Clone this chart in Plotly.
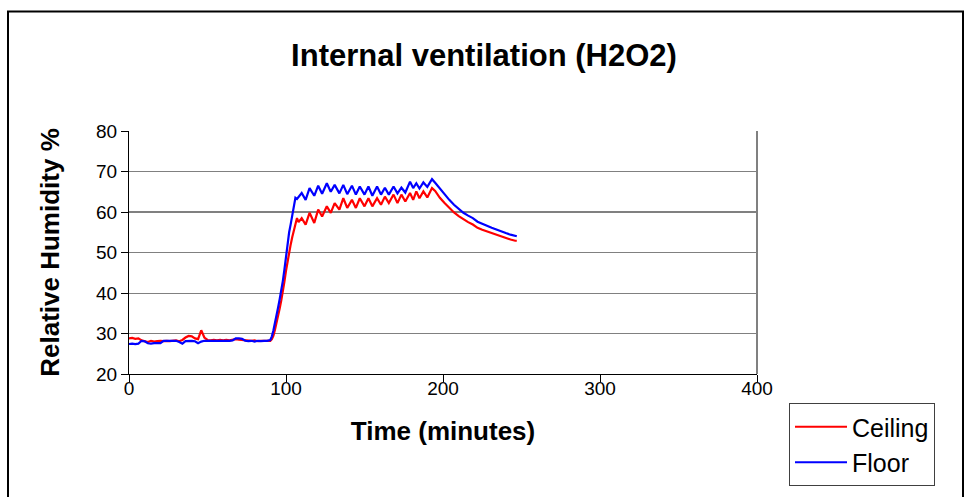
import plotly.graph_objects as go

# ---- data ----
time_min = [
    0, 2, 4, 6, 8, 10, 12, 14, 16, 18, 20, 22, 24, 26, 28, 30, 32, 34, 36, 38, 40, 42, 44, 46, 48,
    50, 52, 54, 56, 58, 60, 62, 64, 66, 68, 70, 72, 74, 76, 78, 80, 82, 84, 86, 88,
    90, 91, 92, 93, 94, 95, 96, 97, 98, 99, 100, 101, 102, 103, 104, 105, 106, 107, 108,
    110, 112.5, 115, 118, 120.5, 123, 126, 128.5, 131, 134, 136.5, 139, 142, 144.5, 147, 150,
    152.5, 155, 158, 160.5, 163, 165.5, 168.5, 171, 173.5, 176, 179, 181, 183, 185, 187.5, 190, 193,
    195, 198, 201, 204, 207, 210, 213, 216, 219, 222, 225, 228, 231, 234, 237, 240, 243, 246, 247,
]

ceiling = [
    28.8, 28.9, 28.7, 28.8, 28.3, 28.0, 27.9, 28.2, 28.0, 28.1, 28.2, 28.1, 28.2, 28.1, 28.2, 28.3, 28.1, 28.4, 29.0, 29.4, 29.3, 28.8, 28.6, 30.8, 29.0,
    28.4, 28.3, 28.4, 28.3, 28.4, 28.3, 28.4, 28.3, 28.4, 28.6, 28.5, 28.4, 28.3, 28.2, 28.2, 28.3, 28.1, 28.2, 28.2, 28.1,
    28.2, 28.6, 29.5, 31.0, 32.6, 34.3, 36.2, 38.2, 40.1, 42.8, 45.5, 48.0, 50.0, 52.0, 53.8, 55.5, 57.5, 58.5, 57.5,
    58.5, 56.9, 59.8, 57.3, 60.6, 58.9, 61.4, 59.8, 62.2, 60.6, 63.4, 61.0, 63.0, 61.0, 63.4, 61.4,
    63.4, 61.4, 63.4, 61.8, 63.8, 62.2, 64.3, 62.2, 64.3, 62.6, 64.7, 63.0, 65.1, 63.4, 65.1, 63.6, 65.9,
    65.2, 63.5, 62.2, 61.0, 59.9, 59.0, 58.2, 57.5, 56.9, 56.1, 55.6, 55.2, 54.8, 54.4, 54.0, 53.5, 53.2, 52.9, 52.9,
]

floor = [
    27.4, 27.5, 27.4, 27.5, 28.2, 28.1, 27.6, 27.5, 27.6, 27.6, 27.6, 28.2, 28.2, 28.1, 28.2, 28.2, 27.9, 27.5, 28.1, 28.2, 28.2, 28.1, 27.6, 28.0, 28.2,
    28.2, 28.2, 28.1, 28.2, 28.2, 28.1, 28.2, 28.2, 28.3, 28.8, 28.8, 28.7, 28.2, 28.1, 28.2, 28.0, 28.2, 28.1, 28.2, 28.2,
    28.4, 29.3, 30.8, 32.5, 34.3, 36.5, 38.5, 40.5, 43.0, 45.8, 49.0, 52.0, 55.0, 57.0, 59.5, 62.0, 63.5, 63.2, 63.8,
    64.7, 63.0, 65.9, 64.0, 66.5, 64.5, 67.1, 65.0, 66.7, 64.6, 66.7, 64.4, 66.5, 64.3, 66.3, 64.3,
    66.3, 64.0, 66.3, 64.3, 66.0, 64.3, 66.3, 64.6, 66.0, 64.8, 67.5, 65.9, 67.1, 65.8, 67.3, 66.2, 68.1,
    67.2, 65.8, 64.3, 63.0, 61.8, 60.8, 59.8, 59.1, 58.5, 57.6, 57.0, 56.6, 56.1, 55.6, 55.2, 54.8, 54.4, 54.1, 54.0,
]

series_names = ["Ceiling", "Floor"]
series_colors = ["#FF0000", "#0000FF"]
x_ticks = [0, 100, 200, 300, 400]
y_ticks = [20, 30, 40, 50, 60, 70, 80]

title_text = "Internal ventilation (H2O2)"
x_title = "Time (minutes)"
y_title = "Relative Humidity %"

FONT = "Liberation Sans, Arial, sans-serif"

fig = go.Figure()
for name, vals, col in zip(series_names, [ceiling, floor], series_colors):
    fig.add_trace(go.Scatter(x=time_min, y=vals, mode="lines", name=name,
                             line=dict(color=col, width=2.2)))

# plot-area geometry (pixels)
W, H = 968, 497
L, R, T, B = 129, 757, 131, 375
pw, ph = R - L, B - T

def px_x(px):
    return (px - L) / pw

def px_y(py):
    return (B - py) / ph

shapes = [
    # darker 60 gridline
    dict(type="line", xref="paper", yref="y", x0=0, x1=1, y0=60, y1=60,
         line=dict(color="#000000", width=1), layer="below"),
    # right border of plot area
    dict(type="line", xref="paper", yref="paper", x0=1, x1=1, y0=0, y1=1,
         line=dict(color="#808080", width=2), layer="below"),
    # outer chart border
    dict(type="rect", xref="paper", yref="paper",
         x0=px_x(8), x1=px_x(963), y0=px_y(520), y1=px_y(11),
         line=dict(color="#000000", width=2), fillcolor="rgba(0,0,0,0)", layer="below"),
]

fig.update_layout(
    width=W, height=H, autosize=False,
    margin=dict(l=L, r=W - R, t=T, b=H - B, pad=0),
    paper_bgcolor="white", plot_bgcolor="white",
    font=dict(family=FONT, color="black", size=19),
    title=dict(text="<b>" + title_text + "</b>", font=dict(size=31, family=FONT, color="black"),
               x=0.5, xref="container", xanchor="center",
               y=1 - 55 / H, yref="container", yanchor="middle"),
    xaxis=dict(range=[0, 400], tickvals=x_ticks, ticktext=[str(v) for v in x_ticks],
               showgrid=False, zeroline=False, showline=True, linecolor="black", linewidth=1,
               ticks="outside", ticklen=7, tickcolor="black", tickfont=dict(size=19),
               ticklabelstandoff=-10,
               title=dict(text="<b>" + x_title + "</b>", font=dict(size=26), standoff=24)),
    yaxis=dict(range=[20, 80], tickvals=y_ticks, ticktext=[str(v) for v in y_ticks],
               showgrid=True, gridcolor="#808080", gridwidth=1, zeroline=False,
               showline=True, linecolor="black", linewidth=1,
               ticks="outside", ticklen=7, tickcolor="black", tickfont=dict(size=19),
               title=dict(text="<b>" + y_title + "</b>", font=dict(size=26), standoff=28)),
    legend=dict(x=px_x(789), y=px_y(403), xanchor="left", yanchor="top",
                bgcolor="white", bordercolor="#404040", borderwidth=1,
                font=dict(size=25, family=FONT), itemwidth=52, tracegroupgap=0),
    shapes=shapes,
    showlegend=True,
)

fig.write_html("out.html")
